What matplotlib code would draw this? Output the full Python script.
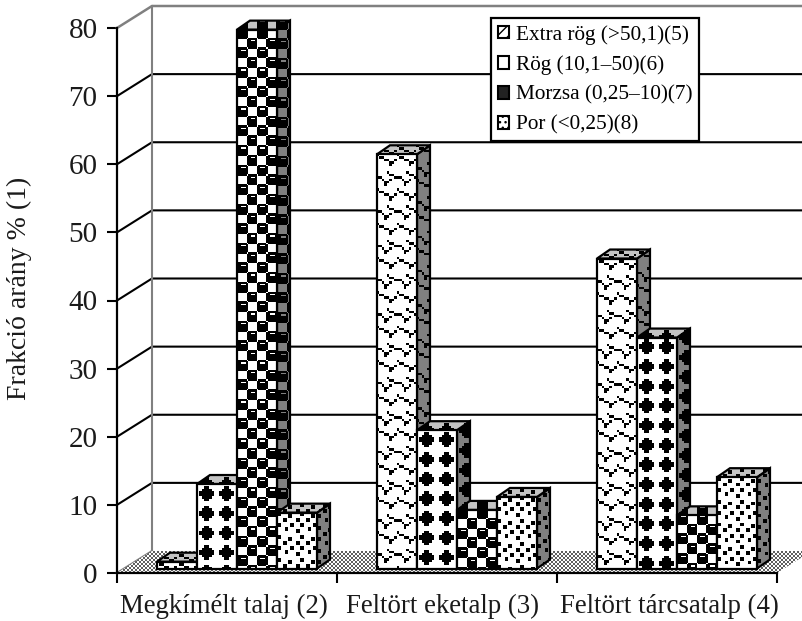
import numpy as np
import matplotlib
matplotlib.use('Agg')
import matplotlib.pyplot as plt
from matplotlib.patches import Polygon, Patch

plt.rcParams['font.family'] = ['Liberation Serif', 'DejaVu Serif']

categories = ['Megkímélt talaj (2)', 'Feltört eketalp (3)', 'Feltört tárcsatalp (4)']
series_names = ['Extra rög (>50,1)(5)', 'Rög (10,1–50)(6)', 'Morzsa (0,25–10)(7)', 'Por (<0,25)(8)']
extra_rog = [1.0, 60.8, 45.5]
rog = [12.4, 20.3, 33.9]
morzsa = [79.1, 8.6, 7.8]
por = [8.2, 10.5, 13.4]
y_ticks = [0, 10, 20, 30, 40, 50, 60, 70, 80]

# mintak (# = fekete)
wave_tile = ["#.......",
             ".##.....",
             "...##..#",
             ".....##.",
             ".....#..",
             "........",
             "........",
             "....#...",
             ".....##.",
             "##.....#",
             "..#..#..",
             "...##...",
             "...#....",
             "........"]
diamond_tile = ["........",
                "...##...",
                "..####..",
                ".######.",
                ".######.",
                "..####..",
                "...##...",
                "........"]
circle_tile = ["#########.......",
               "###....##.......",
               "#########.......",
               "#########.......",
               "#########.......",
               "#########.......",
               "#########.......",
               ".#######.#######",
               "........########",
               "........###....#",
               "........########",
               "........########",
               "........########",
               "........########",
               "........########",
               ".#######.#######"]
dots_tile = ["##..........",
             "##....##....",
             "......##....",
             "...##.....##",
             "...##.....##",
             "............",
             "##.....##...",
             "##.....##...",
             "....##......",
             "....##....##",
             "..........##",
             "............"]
floor_tile = ["#.", ".#"]
tiles = [wave_tile, diamond_tile, circle_tile, dots_tile]
cell_sizes = [2.45, 2.45, 1.22, 1.9]

W, H = 803, 621
PX_X = 220.0          # pixel / kategoria
PX_Y = 545 / 80.0     # pixel / egyseg
DX, DY = 35 / PX_X, 22 / PX_Y          # a teljes melyseg
BAR_DX, BAR_DY = 13 / PX_X, 9 / PX_Y   # az oszlop melysege
GAP_DX, GAP_DY = 7 / PX_X, 4.5 / PX_Y
BAR_W = 40 / PX_X
START = 33 / PX_X

fig = plt.figure(figsize=(W / 100, H / 100), dpi=100)
ax = fig.add_axes([117 / W, 1 - 573 / H, 660 / W, 545 / H])
zc = [3]


def next_z():
    zc[0] += 1
    return zc[0]


def fill_face(pts, tile, bg, cell, fg='black', edge='black', lw=1.6):
    rows = np.array([[c == '#' for c in r] for r in tile])
    xs = [p[0] for p in pts]
    ys = [p[1] for p in pts]
    tw, th = rows.shape[1] * cell / PX_X, rows.shape[0] * cell / PX_Y
    nx = int((max(xs) - min(xs)) / tw) + 1
    ny = int((max(ys) - min(ys)) / th) + 1
    mask = np.tile(rows, (ny, nx))
    bg_rgb = np.array(matplotlib.colors.to_rgb(bg))
    fg_rgb = np.array(matplotlib.colors.to_rgb(fg))
    img = np.where(mask[..., None], fg_rgb, bg_rgb)
    top = max(ys)
    im = ax.imshow(img, extent=(min(xs), min(xs) + nx * tw, top - ny * th, top),
                   origin='upper', aspect='auto', interpolation='nearest', zorder=next_z())
    im.set_clip_box(fig.bbox)
    im.set_clip_path(Polygon(pts, closed=True, transform=ax.transData))
    if edge:
        ax.add_patch(Polygon(pts, closed=True, fill=False, edgecolor=edge, linewidth=lw,
                             clip_on=False, zorder=next_z(), joinstyle='miter'))


def draw_bar(x, val, tile, cell):
    x0 = x + GAP_DX
    x1 = x0 + BAR_W
    y0 = GAP_DY
    y1 = y0 + val
    fill_face([(x1, y0), (x1 + BAR_DX, y0 + BAR_DY), (x1 + BAR_DX, y1 + BAR_DY), (x1, y1)], tile, '#808080', cell)
    fill_face([(x0, y1), (x1, y1), (x1 + BAR_DX, y1 + BAR_DY), (x0 + BAR_DX, y1 + BAR_DY)], tile, '#c4c4c4', cell)
    fill_face([(x0, y0), (x1, y0), (x1, y1), (x0, y1)], tile, 'white', cell)


# padlo
fill_face([(0, 0), (3, 0), (3 + DX, DY), (DX, DY)], floor_tile, 'white', 2, fg='#606060', edge=None)

# hatso fal es racsvonalak
for v in y_ticks[1:-1]:
    ax.plot([0, DX, 3 + DX], [v, v + DY, v + DY], color='black', lw=1.5, clip_on=False, zorder=2)
ax.plot([0, DX, DX], [0, DY, 80 + DY], color='#808080', lw=1.5, clip_on=False, zorder=2)
ax.plot([0, DX, 3 + DX], [80, 80 + DY, 80 + DY], color='#808080', lw=1.8, clip_on=False, zorder=2)

# oszlopok
all_series = [extra_rog, rog, morzsa, por]
for i in range(len(categories)):
    for j, vals in enumerate(all_series):
        draw_bar(i + START + j * BAR_W, vals[i], tiles[j], cell_sizes[j])

ax.set_xlim(0, 3)
ax.set_ylim(0, 80)
ax.set_yticks(y_ticks)
ax.set_xticks([0, 1, 2, 3])
ax.set_xticklabels([])
ax.set_xticks([0.485, 1.48, 2.51], minor=True)
ax.set_xticklabels(categories, minor=True, fontsize=19.4, color='#1a1a1a')
ax.tick_params(axis='x', which='minor', length=0, pad=15)
ax.tick_params(axis='x', which='major', length=7, width=1.5)
ax.tick_params(axis='y', length=7, width=1.5, labelsize=21, pad=7, labelcolor='#1a1a1a')
ax.patch.set_visible(False)
for s in ['top', 'right']:
    ax.spines[s].set_visible(False)
for s in ['left', 'bottom']:
    ax.spines[s].set_linewidth(1.6)
    ax.spines[s].set_zorder(300)
ax.set_ylabel('Frakció arány % (1)', fontsize=20, color='#1a1a1a', labelpad=0)
ax.yaxis.set_label_coords((32 - 117) / 660, 0.523)

handles = [Patch(facecolor=c, edgecolor='black', linewidth=1.5, hatch=h)
           for c, h in zip(['white', 'white', '#222222', 'white'], ['///', None, None, '...'])]
leg = ax.legend(handles, series_names, loc='upper left',
                bbox_to_anchor=((491 - 117) / 660, (573 - 18) / 545), borderaxespad=0,
                fontsize=15.3, handlelength=0.55, handleheight=0.55, handletextpad=0.3,
                labelspacing=0.5, borderpad=0.32, fancybox=False, framealpha=1,
                edgecolor='black')
leg.get_frame().set_linewidth(1.6)
leg.set_zorder(400)

fig.savefig('out.png', dpi=100)
